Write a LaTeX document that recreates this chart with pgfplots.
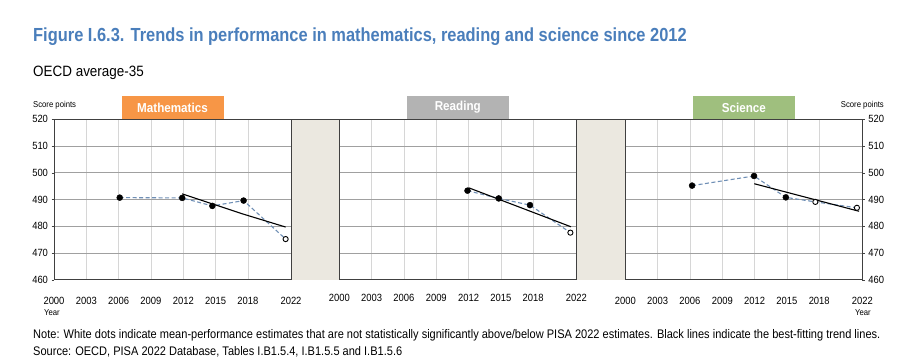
\documentclass[border=0pt]{standalone}
\usepackage{fontspec}
\setmainfont{Liberation Sans}[FakeStretch=0.9]
\newfontfamily\titlefont{Liberation Sans}[FakeStretch=0.868]
\newfontfamily\notefont{Liberation Sans}[FakeStretch=0.886]
\usepackage{pgfplots}
\pgfplotsset{compat=1.18}
\definecolor{titleblue}{HTML}{4A7EBB}
\definecolor{dashc}{HTML}{6F8FB5}
\definecolor{gapc}{HTML}{EBE8E0}
\definecolor{gridh}{HTML}{A0A0A0}
\definecolor{gridv}{HTML}{D6D6D6}
\definecolor{axisc}{HTML}{404040}
\definecolor{mathc}{HTML}{F79646}
\definecolor{readc}{HTML}{B3B3B3}
\definecolor{scic}{HTML}{9FBF7E}
\tikzset{catbox/.style={anchor=south, text=white, font=\bfseries\fontsize{13}{15}\selectfont, minimum width=102bp, minimum height=23bp, inner sep=0pt}}
\pgfplotsset{
  panel/.style={
    scale only axis, width=237bp, height=160.4bp,
    xmin=2000, xmax=2022, ymin=460, ymax=520,
    xtick={2000,2003,2006,2009,2012,2015,2018,2022},
    ytick={460,470,480,490,500,510,520},
    /pgf/number format/1000 sep={},
    /pgf/number format/assume math mode=true,
    xmajorgrids, ymajorgrids,
    major x grid style={color=gridv, line width=0.8bp},
    major y grid style={color=gridh, line width=0.8bp},
    axis line style={color=axisc, line width=0.9bp},
    xtick style={draw=none},
    xtick pos=left,
    extra x ticks={2000,2022},
    extra x tick labels={},
    extra x tick style={grid=none, tick style={draw=axisc, line width=0.9bp}, major tick length=5bp, tick align=outside},
    ticklabel style={font=\fontsize{10.5}{12}\selectfont},
    xticklabel style={anchor=base, yshift=-21.8bp},
    clip=false,
  },
  dashs/.style={dashc, dashed, dash pattern=on 4bp off 2.5bp, line width=1.1bp},
  filled/.style={only marks, mark=*, mark size=3bp, mark options={fill=black, draw=black}},
  openm/.style={only marks, mark=*, mark size=2.6bp, mark options={fill=white, draw=black, line width=0.9bp}},
  trend/.style={black, line width=1.1bp},
}
\begin{document}
\begin{tikzpicture}[x=1bp,y=1bp]
\useasboundingbox (0,0) rectangle (911,362);
% gaps between panels
\fill[gapc] (291,82.3) rectangle (339.3,242.7);
\fill[gapc] (576.3,82.3) rectangle (625.3,242.7);
% Mathematics
\begin{axis}[panel, at={(54bp,82.3bp)}, anchor=south west,
  ytick pos=left, ytick style={draw=axisc}, major tick length=2.5bp, tick align=outside]
\addplot[dashs] coordinates {(2006.1,490.7) (2011.9,490.6) (2014.7,487.6) (2017.6,489.6) (2021.5,475.2)};
\addplot[trend] coordinates {(2011.9,492.1) (2017.6,484.5) (2021.5,479.7)};
\addplot[filled] coordinates {(2006.1,490.7) (2011.9,490.6) (2014.7,487.6) (2017.6,489.6)};
\addplot[openm] coordinates {(2021.5,475.2)};
\node[catbox, fill=mathc] at (rel axis cs:0.5,1) {Mathematics};
\end{axis}
% Reading
\begin{axis}[panel, at={(339.3bp,82.3bp)}, anchor=south west,
  yticklabels={}, ytick style={draw=none}]
\addplot[dashs] coordinates {(2011.9,493.3) (2014.8,490.4) (2017.7,487.9) (2021.45,477.6)};
\addplot[trend] coordinates {(2012.0,494.4) (2021.5,479.8)};
\addplot[filled] coordinates {(2011.9,493.3) (2014.8,490.4) (2017.7,487.9)};
\addplot[openm] coordinates {(2021.45,477.6)};
\node[catbox, fill=readc] at (rel axis cs:0.5,1) {Reading};
\end{axis}
% Science
\begin{axis}[panel, at={(625.3bp,82.3bp)}, anchor=south west,
  ytick pos=right, yticklabel pos=right, ytick style={draw=axisc}, major tick length=2.5bp, tick align=outside]
\addplot[dashs] coordinates {(2006.2,495.2) (2011.95,498.8) (2014.9,490.8) (2017.64,489.1) (2021.5,486.9)};
\addplot[trend] coordinates {(2011.97,495.9) (2021.7,485.6)};
\addplot[filled] coordinates {(2006.2,495.2) (2011.95,498.8) (2014.9,490.8)};
\addplot[openm] coordinates {(2017.64,489.1) (2021.5,486.9)};
\node[catbox, fill=scic] at (rel axis cs:0.5,1) {Science};
\end{axis}
% top line across gaps
\draw[axisc, line width=0.9bp] (290.7,242.7) -- (339.6,242.7);
\draw[axisc, line width=0.9bp] (576,242.7) -- (625.6,242.7);
% texts
\node[anchor=base west, inner sep=0pt, text=titleblue, font=\titlefont\bfseries\fontsize{19}{22}\selectfont] at (33,321) {Figure I.6.3. Trends in performance in mathematics, reading and science since 2012};
\node[anchor=base west, inner sep=0pt, font=\fontsize{15}{18}\selectfont] at (33,286) {OECD average-35};
\node[anchor=base west, inner sep=0pt, font=\fontsize{8.6}{10}\selectfont] at (33,255) {Score points};
\node[anchor=base east, inner sep=0pt, font=\fontsize{8.6}{10}\selectfont] at (884,255) {Score points};
\node[anchor=base west, inner sep=0pt, font=\fontsize{8.6}{10}\selectfont] at (44,47) {Year};
\node[anchor=base east, inner sep=0pt, font=\fontsize{8.6}{10}\selectfont] at (871,47) {Year};
\node[anchor=base west, inner sep=0pt, font=\notefont\fontsize{12.5}{14}\selectfont] at (33,23.7) {Note: White dots indicate mean-performance estimates that are not statistically significantly above/below PISA 2022 estimates. Black lines indicate the best-fitting trend lines.};
\node[anchor=base west, inner sep=0pt, font=\notefont\fontsize{12.5}{14}\selectfont] at (33,7) {Source: OECD, PISA 2022 Database, Tables I.B1.5.4, I.B1.5.5 and I.B1.5.6};
\end{tikzpicture}
\end{document}
